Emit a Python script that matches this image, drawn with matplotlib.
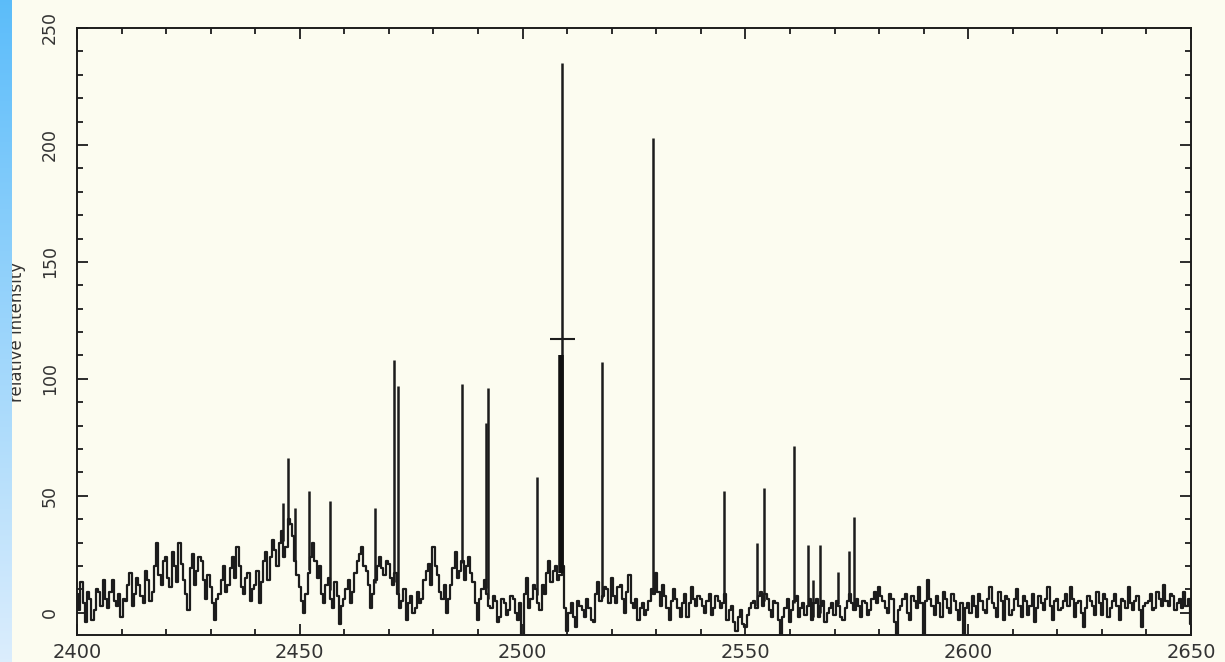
import numpy as np
import matplotlib
matplotlib.use('Agg')
import matplotlib.pyplot as plt
from matplotlib.ticker import MultipleLocator

# 背景谱线: 整数点 (2400 ~ 2650) 与半整数点 (2400.5 ~ 2649.5)
wave_int = np.arange(2400, 2651)
wave_half = np.arange(2400.5, 2650, 1.0)
level_int = [
    8, 13, -4, 6, 1, 9, 14, 2, 14, 3,          # 2400
    -2, 5, 17, 8, 12, 4, 14, 9, 30, 12,        # 2410
    24, 11, 20, 30, 14, 1, 25, 18, 22, 6,      # 2420
    11, -3, 8, 20, 12, 24, 28, 11, 15, 5,      # 2430
    12, 4, 22, 14, 31, 20, 35, 28, 38, 22,     # 2440
    11, 0, 17, 30, 15, 8, 12, 6, 13, -5,       # 2450
    6, 14, 9, 22, 28, 18, 2, 14, 24, 16,       # 2460
    21, 12, 8, 5, -3, 7, 2, 4, 14, 21,         # 2470
    28, 16, 6, 0, 12, 26, 18, 14, 24, 13,      # 2480
    -3, 10, 8, 2, 5, -2, 4, 1, 6, -3,          # 2490
    -10, 15, 6, 10, 1, 8, 22, 18, 14, 20,      # 2500
    -8, 4, -6, 3, -2, 2, -4, 13, 7, 10,        # 2510
    15, 4, 12, 0, 16, 2, -3, 4, 1, 10,         # 2520
    17, 3, 7, -3, 10, 2, 4, -2, 11, 3,         # 2530
    6, 0, 8, 2, 5, 4, -3, 3, -8, 1,            # 2540
    -6, 2, 5, 7, 3, 6, -2, 4, -10, 2,          # 2550
    -4, 5, -2, 4, 3, -3, 6, 3, -4, 2,          # 2560
    -1, 3, -3, 5, 4, 6, -2, 4, 1, 9,           # 2570
    11, 5, 0, 6, -12, 3, 8, -3, 5, 11,         # 2580
    -12, 14, 3, 7, -2, 6, 0, 5, -3, -12,       # 2590
    4, 7, -2, 5, 0, 11, 2, 9, -3, 6,           # 2600
    1, 10, -2, 5, 3, -4, 7, 1, 11, -3,         # 2610
    6, 2, 8, 11, -2, 5, -6, 7, 3, 9,           # 2620
    -1, 6, 2, 8, -3, 5, 11, 1, 7, -6,          # 2630
    4, 8, 2, 6, 12, 3, 7, 4, 2, 3,             # 2640
    -5,                                        # 2650
]
level_half = [
    1, 4, 9, -3, 10, 3, 6, 9, 5, 8,            # 2400.5
    6, 12, 3, 15, 7, 18, 5, 20, 16, 22,        # 2410.5
    15, 26, 13, 21, 8, 19, 12, 24, 14, 16,     # 2420.5
    4, 6, 14, 9, 19, 15, 20, 8, 17, 10,        # 2430.5
    18, 13, 26, 24, 27, 30, 24, 40, 33, 16,    # 2440.5
    5, 8, 24, 22, 20, 4, 15, 2, 7, 3,          # 2450.5
    10, 4, 17, 25, 20, 12, 8, 20, 19, 22,      # 2460.5
    15, 17, 2, 10, 4, 0, 9, 6, 18, 12,         # 2470.5
    20, 9, 12, 6, 19, 15, 22, 20, 17, 4,       # 2480.5
    6, 14, 3, 7, -4, 6, -1, 7, 0, 4,           # 2490.5
    8, 2, 12, 4, 12, 17, 13, 20, 16, 2,        # 2500.5
    0, -2, 5, 1, 6, -3, 8, 5, 11, 4,           # 2510.5
    7, 11, 6, 9, 4, 6, 2, -1, 5, 8,            # 2520.5
    9, 12, 2, 5, 6, -2, 8, 4, 6, 7,            # 2530.5
    3, 5, -1, 7, 2, 8, 1, -4, -2, -5,          # 2540.5
    -1, 4, 2, 9, 8, 1, 5, -3, -2, 6,           # 2550.5
    1, 7, 2, -1, 6, 4, -2, 5, 0, 4,            # 2560.5
    5, -2, 2, 8, 1, 3, 5, -1, 6, 4,            # 2570.5
    7, 2, 8, -4, 1, 6, 0, 7, 2, 4,             # 2580.5
    5, 6, -1, 4, 9, 2, 8, 1, 4, 2,             # 2590.5
    0, 3, 8, 1, 6, 4, -2, 5, 7, -1,            # 2600.5
    6, 3, 7, -1, 8, 2, 4, 6, 3, 5,             # 2610.5
    1, 5, 3, 6, 4, 0, 2, 5, -1, 4,             # 2620.5
    8, -2, 5, 3, 6, 2, 4, 5, 1, 3,             # 2630.5
    5, 1, 9, 3, 5, 8, 1, 6, 9, 6,              # 2640.5
]

# 尖峰位置与强度
peak_pos = [2446.2, 2447.4, 2449.0, 2452.1, 2456.8, 2466.9, 2471.1, 2472.0,
            2486.4, 2491.8, 2492.2, 2503.2, 2508.8, 2517.8, 2529.3, 2545.2,
            2552.6, 2554.2, 2560.9, 2564.0, 2565.1, 2566.7, 2570.8, 2573.2,
            2574.4]
peak_height = [47, 66, 45, 52, 48, 45, 108, 97,
               98, 81, 96, 58, 235, 107, 203, 52,
               30, 53.5, 71.5, 29, 14, 29, 17.6, 26.5,
               41]

# 主峰下部的粗线段和标记
main_pos = 2508.6
main_body = 110
main_mark = 117

# 合并成一条谱线
wave = np.empty(len(wave_int) + len(wave_half))
level = np.empty_like(wave)
wave[0::2], wave[1::2] = wave_int, wave_half
level[0::2], level[1::2] = level_int, level_half

bg = '#fcfcf0'
ink = '#1c1c1c'

fig = plt.figure(figsize=(12.25, 6.62), dpi=100, facecolor=bg)
ax = fig.add_axes([77 / 1225, 27 / 662, 1114 / 1225, 607 / 662])
ax.set_facecolor(bg)

ax.plot(wave, level, color=ink, lw=1.6, drawstyle='steps-mid')
peak_base = np.interp(peak_pos, wave, level)
ax.vlines(peak_pos, peak_base, peak_height, color=ink, lw=1.8)
ax.vlines([main_pos], np.interp(main_pos, wave, level), [main_body],
          color='#111111', lw=4)
ax.plot([peak_pos[12]], [main_mark], marker='_', markersize=18, mew=1.5, color=ink)

ax.set_xlim(2400, 2650)
ax.set_ylim(-9.5, 250)
ax.xaxis.set_major_locator(MultipleLocator(50))
ax.xaxis.set_minor_locator(MultipleLocator(10))
ax.yaxis.set_major_locator(MultipleLocator(50))
ax.yaxis.set_minor_locator(MultipleLocator(10))
ax.tick_params(which='both', direction='in', top=True, right=True,
               color=ink, width=1.3)
ax.tick_params(which='major', length=8)
ax.tick_params(which='minor', length=4)
ax.tick_params(axis='x', labelsize=14, pad=6, labelcolor='#333333')
ax.tick_params(axis='y', labelsize=12.5, pad=13, labelcolor='#333333')
for lab in ax.get_yticklabels():
    lab.set_rotation(90)
    lab.set_va('center')
for sp in ax.spines.values():
    sp.set_color(ink)
    sp.set_linewidth(1.4)

fig.text(17 / 1225, 1 - 332 / 662, 'relative intensity', rotation=90,
         ha='center', va='center', fontsize=12, color='#333333')

# 左侧蓝色渐变条
strip = fig.add_axes([0, 0, 12 / 1225, 1], zorder=5)
grad = np.linspace(0, 1, 256).reshape(-1, 1)
top_c = np.array([0.36, 0.74, 0.98])
bot_c = np.array([0.86, 0.93, 0.99])
img = top_c * (1 - grad[..., None]) + bot_c * grad[..., None]
strip.imshow(img, aspect='auto', extent=[0, 1, 0, 1])
strip.set_axis_off()

plt.savefig('out.png', dpi=100, facecolor=bg)
plt.close()
